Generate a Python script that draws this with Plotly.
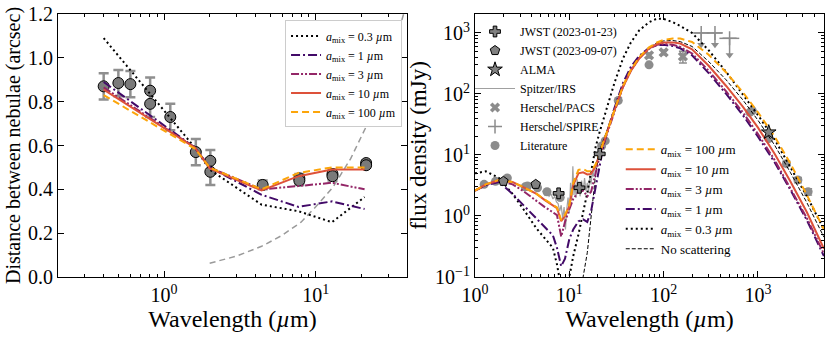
import plotly.graph_objects as go

# ---------------- left panel: separation between the two nebulae ----------------
obs_wl = [0.4, 0.5, 0.6, 0.81, 0.81, 1.1, 1.62, 2.02, 2.02, 4.47, 7.8, 7.8, 12.9, 12.9, 21.5, 21.5]
obs_sep = [0.87, 0.885, 0.88, 0.85, 0.79, 0.73, 0.57, 0.53, 0.48, 0.42, 0.45, 0.44, 0.47, 0.46, 0.52, 0.51]
obs_err = [0.06, 0.06, 0.06, 0.06, 0.06, 0.06, 0.06, 0.05, 0.06, 0.02, 0.02, 0.02, 0.02, 0.02, 0.01, 0.01]

mod_wl = [0.4, 1.6, 2.0, 4.4, 7.7, 12.8, 21.0]
sep_a03 = [1.09, 0.59, 0.49, 0.33, 0.30, 0.25, 0.365]
sep_a1 = [0.89, 0.59, 0.50, 0.375, 0.32, 0.345, 0.31]
sep_a3 = [0.865, 0.59, 0.50, 0.40, 0.415, 0.43, 0.40]
sep_a10 = [0.855, 0.59, 0.495, 0.395, 0.46, 0.49, 0.49]
sep_a100 = [0.83, 0.585, 0.50, 0.40, 0.475, 0.50, 0.50]

res_wl = [2.0, 3.0, 4.4, 6.0, 8.0, 10.0, 13.0, 17.0, 22.0, 28.0, 38.0]
res_sep = [0.063, 0.095, 0.14, 0.19, 0.25, 0.32, 0.41, 0.54, 0.70, 0.89, 1.2]

# ---------------- right panel: SED ----------------
sed_wl = [1.0, 1.3, 1.8, 2.5, 3.2, 4.5, 5.5, 6.7, 7.4, 8.2, 9.0, 10.0, 11.0, 12.5, 14.0, 15.5, 17.0,
          19.0, 21.0, 23.0, 25.0, 30.0, 37.0, 45.0, 55.0, 70.0, 85.0, 100.0, 125.0, 150.0, 200.0,
          300.0, 460.0, 690.0, 1000.0, 1500.0, 2200.0, 3300.0, 5000.0]
f_a100 = [2.6, 3.3, 3.9, 3.6, 3.0, 2.3, 1.85, 1.5, 1.38, 0.85, 1.05, 1.5, 3.5, 5.7, 5.9, 5.4, 5.4,
          7.0, 11.0, 16.0, 24.0, 55.0, 135.0, 250.0, 400.0, 580.0, 700.0, 770.0, 810.0, 810.0, 710.0,
          440.0, 225.0, 107.0, 50.0, 20.0, 7.3, 2.2, 0.6]
f_a10 = [2.6, 3.3, 3.9, 3.6, 3.0, 2.3, 1.82, 1.48, 1.34, 0.82, 1.0, 1.45, 3.2, 5.0, 5.2, 4.8, 4.9,
         6.6, 10.5, 15.5, 23.0, 53.0, 130.0, 240.0, 380.0, 560.0, 660.0, 700.0, 700.0, 670.0, 540.0,
         290.0, 135.0, 62.0, 28.0, 10.5, 3.7, 1.15, 0.29]
f_a3 = [2.6, 3.2, 3.8, 3.3, 2.6, 1.75, 1.4, 1.15, 1.03, 0.46, 0.8, 1.3, 1.9, 2.5, 2.6, 2.1, 2.5,
        5.0, 9.5, 15.0, 22.0, 52.0, 130.0, 245.0, 385.0, 550.0, 640.0, 660.0, 640.0, 590.0, 460.0,
        240.0, 110.0, 50.0, 22.0, 8.3, 2.9, 0.92, 0.24]
f_a1 = [2.6, 3.2, 3.6, 2.3, 1.55, 0.9, 0.65, 0.48, 0.3, 0.15, 0.2, 0.42, 0.6, 0.82, 0.88, 0.8, 1.2,
        3.0, 7.5, 14.0, 23.0, 58.0, 150.0, 280.0, 420.0, 570.0, 630.0, 640.0, 610.0, 560.0, 430.0,
        220.0, 100.0, 45.0, 20.0, 7.6, 2.7, 0.85, 0.22]
f_a03 = [5.0, 5.4, 4.2, 2.3, 1.35, 0.62, 0.43, 0.3, 0.16, 0.07, 0.03, 0.1, 0.22, 0.5, 1.1, 2.4, 5.2,
         13.5, 24.0, 38.0, 60.0, 150.0, 380.0, 700.0, 1100.0, 1500.0, 1720.0, 1700.0, 1500.0, 1300.0, 1000.0,
         520.0, 230.0, 100.0, 45.0, 18.0, 6.5, 2.1, 0.6]

noscat_wl = [13.5, 14.0, 15.5, 17.0, 19.0, 21.0, 23.0, 25.0, 30.0, 37.0, 45.0, 55.0, 70.0, 85.0, 100.0,
             125.0, 150.0, 200.0, 300.0, 460.0, 690.0, 1000.0, 1500.0, 2200.0, 3300.0, 5000.0]
f_noscat = [0.06, 0.1, 0.25, 1.0, 4.8, 12.0, 17.0, 25.0, 55.0, 135.0, 250.0, 400.0, 580.0, 690.0, 740.0,
            750.0, 720.0, 600.0, 340.0, 170.0, 80.0, 37.0, 14.5, 5.2, 1.65, 0.45]

jwst1_wl = [7.7, 12.8, 21.0]
jwst1_f = [2.35, 2.9, 10.4]
jwst2_wl = [2.0, 4.4]
jwst2_f = [3.7, 3.3]
alma_wl = [1300.0]
alma_f = [23.5]

irs_wl = [5.2, 5.5, 5.8, 6.1, 6.4, 6.7, 7.0, 7.3, 7.6, 7.9, 8.2, 8.5, 8.8, 9.1, 9.4, 9.7, 10.0, 10.3,
          10.6, 10.9, 11.2, 11.5, 11.8, 12.1, 12.4, 12.7, 13.0, 13.5, 14.0, 14.5, 15.0, 15.5, 16.0, 16.5,
          17.0, 17.5, 18.0, 18.5, 19.0, 19.5, 20.0, 21.0, 22.0, 23.0, 24.0, 25.0, 26.5, 28.0, 30.0, 32.0,
          34.0, 36.0]
irs_f = [2.6, 2.2, 2.5, 2.1, 2.3, 1.9, 2.1, 1.7, 1.6, 1.2, 1.5, 0.9, 1.4, 0.6, 1.3, 2.0, 1.1, 3.5,
         1.8, 6.5, 2.2, 3.4, 2.0, 4.0, 2.6, 3.2, 2.1, 3.8, 2.5, 4.2, 2.6, 3.5, 2.4, 4.6,
         3.3, 5.2, 4.4, 6.5, 6.0, 8.0, 8.5, 11.0, 13.0, 16.0, 19.0, 24.0, 32.0, 42.0, 55.0, 66.0,
         78.0, 90.0]

pacs_wl = [70.0, 100.0, 160.0]
pacs_f = [430.0, 480.0, 410.0]
pacs_err = [40.0, 40.0, 90.0]

spire_wl = [250.0, 350.0, 500.0]
spire_f = [1000.0, 1000.0, 815.0]
spire_tip = [640.0, 640.0, 435.0]
spire_wplus = [57.0, 75.0, 133.0]
spire_wminus = [54.0, 64.0, 110.0]

lit_wl = [1.25, 1.65, 2.2, 3.4, 3.6, 4.6, 5.8, 8.0, 22.0, 24.0, 33.0, 70.0, 820.0, 870.0, 1300.0,
          2000.0, 2650.0, 3400.0]
lit_f = [3.3, 3.7, 4.2, 3.0, 3.1, 2.9, 2.5, 2.0, 14.0, 17.0, 78.0, 300.0, 50.0, 53.0, 18.5,
         7.2, 3.9, 2.5]
lit_err = [0, 0, 0, 0, 0, 0, 0, 0, 0, 0, 0, 0, 0, 0, 0, 0.7, 0.4, 0.3]

C03, C1, C3, C10, C100 = "black", "#420a68", "#932667", "#dd513a", "#fca50a"
FONT = "Liberation Serif"


def amix(v):
    return f"<i>a</i><sub>mix</sub> = {v} <i>µ</i>m"


models = [
    ("0.3", C03, "2px,3px", sep_a03, f_a03),
    ("1", C1, "9px,3px,2px,3px", sep_a1, f_a1),
    ("3", C3, "8px,2px,2px,2px,2px,2px", sep_a3, f_a3),
    ("10", C10, "solid", sep_a10, f_a10),
    ("100", C100, "7px,4px", sep_a100, f_a100),
]
right_rank = {"100": 1, "10": 2, "3": 3, "1": 4, "0.3": 5}

fig = go.Figure()

# ---- left panel
fig.add_trace(go.Scatter(
    x=res_wl, y=res_sep, mode="lines", line=dict(color="#9a9a9a", width=1.5, dash="6px,4px"),
    showlegend=False, hoverinfo="skip", xaxis="x", yaxis="y"))
fig.add_trace(go.Scatter(
    x=obs_wl, y=obs_sep, mode="markers",
    marker=dict(size=11, color="#7a7a7a", line=dict(color="black", width=1)),
    error_y=dict(type="data", array=obs_err, color="#8f8f8f", thickness=2.5, width=5),
    showlegend=False, xaxis="x", yaxis="y"))
for i, (lab, col, dash, sep, _) in enumerate(models):
    fig.add_trace(go.Scatter(
        x=mod_wl, y=sep, mode="lines", name=amix(lab), line=dict(color=col, width=2, dash=dash),
        legend="legend", legendrank=i + 1, xaxis="x", yaxis="y"))

# ---- right panel: data under the models
fig.add_trace(go.Scatter(
    x=irs_wl, y=irs_f, mode="lines", name="Spitzer/IRS", line=dict(color="#a0a0a0", width=1.2),
    legend="legend2", legendrank=4, xaxis="x2", yaxis="y2"))
fig.add_trace(go.Scatter(
    x=lit_wl, y=lit_f, mode="markers", name="Literature",
    marker=dict(size=9, color="#8c8c8c"),
    error_y=dict(type="data", array=lit_err, color="#8c8c8c", thickness=1.2, width=4),
    legend="legend2", legendrank=7, xaxis="x2", yaxis="y2"))
fig.add_trace(go.Scatter(
    x=pacs_wl, y=pacs_f, mode="markers", name="Herschel/PACS",
    marker=dict(size=9, symbol="x", color="#8c8c8c"),
    error_y=dict(type="data", array=pacs_err, color="#8c8c8c", thickness=1.5, width=4),
    legend="legend2", legendrank=5, xaxis="x2", yaxis="y2"))
fig.add_trace(go.Scatter(
    x=spire_wl, y=spire_f, mode="markers", name="Herschel/SPIRE",
    marker=dict(size=10, symbol="cross-thin", line=dict(color="#8c8c8c", width=1.5)),
    error_x=dict(type="data", symmetric=False, array=spire_wplus, arrayminus=spire_wminus,
                 color="#8c8c8c", thickness=1.5, width=0),
    error_y=dict(type="data", symmetric=False, array=[0, 0, 0],
                 arrayminus=[f - t for f, t in zip(spire_f, spire_tip)],
                 color="#8c8c8c", thickness=1.5, width=0),
    legend="legend2", legendrank=6, xaxis="x2", yaxis="y2"))
fig.add_trace(go.Scatter(
    x=spire_wl, y=spire_tip, mode="markers", marker=dict(size=7, symbol="triangle-down", color="#8c8c8c"),
    showlegend=False, hoverinfo="skip", xaxis="x2", yaxis="y2"))

fig.add_trace(go.Scatter(
    x=noscat_wl, y=f_noscat, mode="lines", name="No scattering",
    line=dict(color="black", width=1, dash="4px,2px"),
    legend="legend3", legendrank=6, xaxis="x2", yaxis="y2"))
for lab, col, dash, _, flux in models:
    fig.add_trace(go.Scatter(
        x=sed_wl, y=flux, mode="lines", name=amix(lab), line=dict(color=col, width=2, dash=dash),
        legend="legend3", legendrank=right_rank[lab], xaxis="x2", yaxis="y2"))

fig.add_trace(go.Scatter(
    x=jwst2_wl, y=jwst2_f, mode="markers", name="JWST (2023-09-07)",
    marker=dict(size=10, symbol="pentagon", color="#808080", line=dict(color="black", width=1)),
    legend="legend2", legendrank=2, xaxis="x2", yaxis="y2"))
fig.add_trace(go.Scatter(
    x=jwst1_wl, y=jwst1_f, mode="markers", name="JWST (2023-01-23)",
    marker=dict(size=9, symbol="cross", color="#808080", line=dict(color="black", width=1)),
    legend="legend2", legendrank=1, xaxis="x2", yaxis="y2"))
fig.add_trace(go.Scatter(
    x=alma_wl, y=alma_f, mode="markers", name="ALMA",
    marker=dict(size=11, symbol="star", color="#808080", line=dict(color="black", width=1)),
    legend="legend2", legendrank=3, xaxis="x2", yaxis="y2"))


def minor_vals(lo, hi):
    out = []
    d = lo
    while d < hi:
        out += [k * d for k in range(2, 10) if k * d <= hi]
        d *= 10
    return out


tick_font = dict(family=FONT, size=20, color="black")
xtitle_font = dict(family=FONT, size=24, color="black")
axis_common = dict(showline=True, linecolor="black", linewidth=1, mirror="ticks", ticks="inside",
                   ticklen=6, tickcolor="black", showgrid=False, zeroline=False, tickfont=tick_font,
                   automargin=False)

fig.update_layout(
    width=831, height=340, margin=dict(l=0, r=0, t=0, b=0, autoexpand=False),
    paper_bgcolor="white", plot_bgcolor="white",
    font=dict(family=FONT, color="black"),
    xaxis=dict(**axis_common, type="log", domain=[0.0698, 0.4898],
               range=[-0.699, 1.602], tickmode="array", tickvals=[1, 10],
               ticktext=["10<sup>0</sup>", "10<sup>1</sup>"],
               minor=dict(tickmode="array", tickvals=minor_vals(0.1, 40), ticks="inside", ticklen=3,
                          tickcolor="black"),
               title=dict(text="Wavelength (<i>µ</i>m)", font=xtitle_font, standoff=0)),
    yaxis=dict(**axis_common, domain=[0.1853, 0.9588], range=[0, 1.2], dtick=0.2, tickformat=".1f",
               title=dict(text="Distance between nebulae (arcsec)", font=dict(family=FONT, size=20),
                          standoff=2)),
    xaxis2=dict(**axis_common, type="log", domain=[0.5716, 0.9916], anchor="y2",
                range=[0, 3.70], tickmode="array", tickvals=[1, 10, 100, 1000],
                ticktext=["10<sup>0</sup>", "10<sup>1</sup>", "10<sup>2</sup>", "10<sup>3</sup>"],
                minor=dict(tickmode="array", tickvals=minor_vals(1, 5000), ticks="inside", ticklen=3,
                           tickcolor="black"),
                title=dict(text="Wavelength (<i>µ</i>m)", font=xtitle_font, standoff=0)),
    yaxis2=dict(**axis_common, type="log", domain=[0.1853, 0.9588], anchor="x2",
                range=[-1, 3.31], tickmode="array", tickvals=[0.1, 1, 10, 100, 1000],
                ticktext=["10<sup>−1</sup>", "10<sup>0</sup>", "10<sup>1</sup>", "10<sup>2</sup>",
                          "10<sup>3</sup>"],
                minor=dict(tickmode="array", tickvals=minor_vals(0.1, 2000), ticks="inside", ticklen=3,
                           tickcolor="black"),
                title=dict(text="flux density (mJy)", font=dict(family=FONT, size=23), standoff=2)),
    legend=dict(x=0.4838, y=0.94, xanchor="right", yanchor="top", bgcolor="white",
                bordercolor="#cccccc", borderwidth=1, font=dict(family=FONT, size=12)),
    legend2=dict(x=0.5656, y=0.95, xanchor="left", yanchor="top", bgcolor="rgba(0,0,0,0)",
                 itemwidth=40, font=dict(family=FONT, size=12)),
    legend3=dict(x=0.747, y=0.605, xanchor="left", yanchor="top", bgcolor="rgba(0,0,0,0)",
                 font=dict(family=FONT, size=13)),
)

# the page body otherwise adds an 8px offset around the figure
fig.write_html("out.html", config={"displayModeBar": False},
               post_script="document.body.style.margin = '0px';")
